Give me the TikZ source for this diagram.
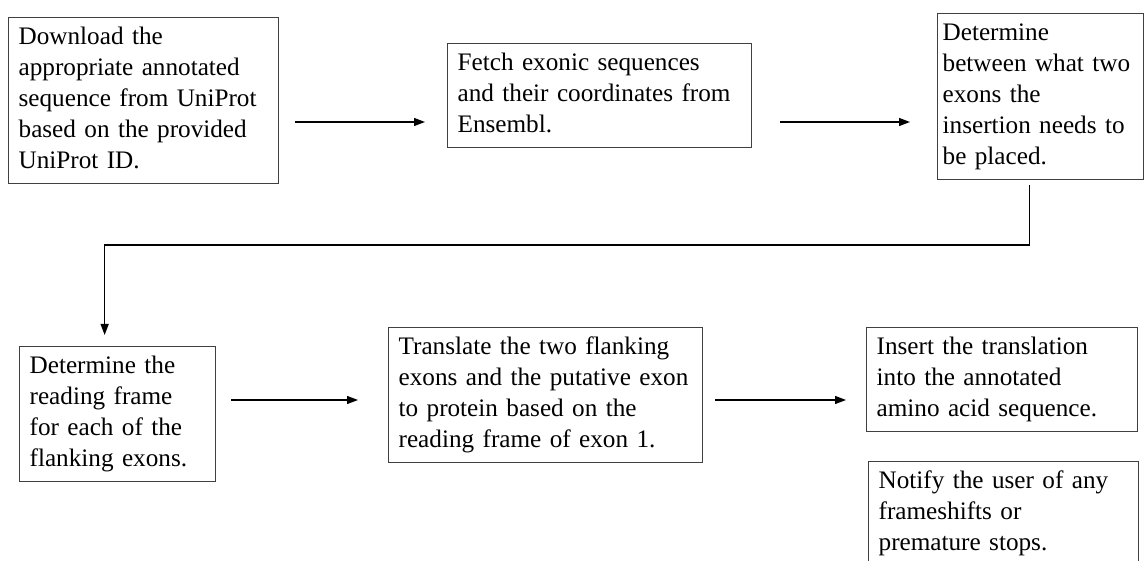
\documentclass[tikz,border=0pt]{standalone}
\usepackage{fontspec}
\setmainfont{Liberation Serif}
\usetikzlibrary{arrows.meta}

\begin{document}
\begin{tikzpicture}[x=1pt,y=-1pt,
    stepbox/.style={draw=black!75,line width=1.3pt,anchor=north west,align=left,
        inner xsep=10pt,inner ysep=5.5pt,font=\fontsize{25.2}{31}\selectfont,
        execute at begin node=\strut,execute at end node=\strut},
    flow/.style={line width=1.3pt,-{Triangle[length=11pt,width=8pt]}}]
    \useasboundingbox (0,0) rectangle (1144,561);
    \clip (0,0) rectangle (1144,561);

    \node[stepbox,text width=250pt] (download) at (8,17) {Download the\\ appropriate annotated\\ sequence from UniProt\\ based on the provided\\ UniProt ID.};
    \node[stepbox,text width=284pt] (fetch) at (447,43) {Fetch exonic sequences\\ and their coordinates from\\ Ensembl.};
    \node[stepbox,text width=196pt,inner xsep=5pt] (place) at (937,13) {Determine\\ between what two\\ exons the\\ insertion needs to\\ be placed.};
    \node[stepbox,text width=176pt] (frame) at (19,346) {Determine the\\ reading frame\\ for each of the\\ flanking exons.};
    \node[stepbox,text width=294pt] (translate) at (388,327) {Translate the two flanking\\ exons and the putative exon\\ to protein based on the\\ reading frame of exon 1.};
    \node[stepbox,text width=251pt] (insert) at (866,327) {Insert the translation\\ into the annotated\\ amino acid sequence.};
    \node[stepbox,text width=250pt] (notify) at (868,461) {Notify the user of any\\ frameshifts or\\ premature stops.};

    \coordinate (row1) at (0,122);
    \coordinate (turn) at (0,245);
    \coordinate (row2) at (0,400);

    \path[flow] (download.east |- row1) edge[shorten <=16pt,shorten >=22pt] (fetch.west |- row1)
                (fetch.east |- row1) edge[shorten <=28pt,shorten >=27pt] (place.west |- row1);
    \draw[flow,shorten <=5pt,shorten >=11pt] ([xshift=-11pt]place.south) |- ([xshift=-13pt]frame.north |- turn) -- ([xshift=-13pt]frame.north);
    \path[flow] (frame.east |- row2) edge[shorten <=15pt,shorten >=30pt] (translate.west |- row2)
                (translate.east |- row2) edge[shorten <=12pt,shorten >=20pt] (insert.west |- row2);

\end{tikzpicture}
\end{document}
